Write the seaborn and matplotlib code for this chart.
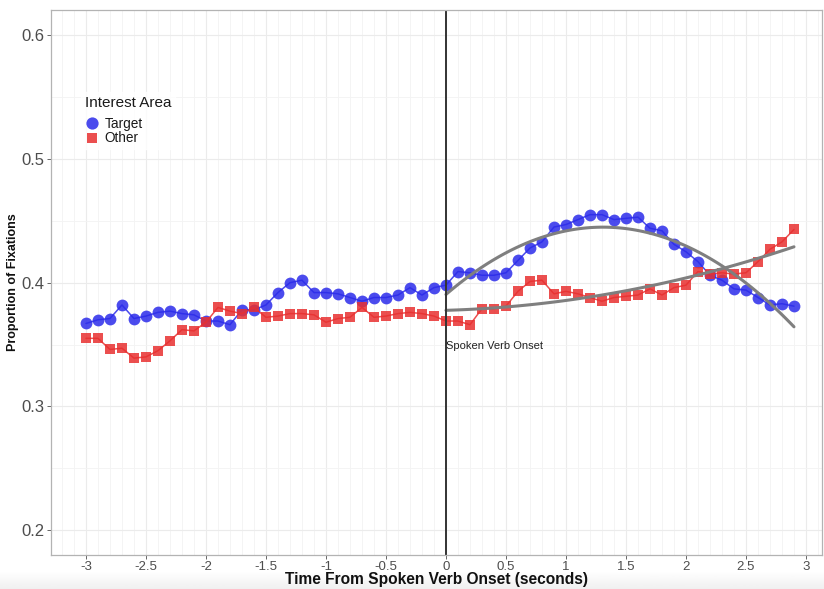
import numpy as np
import pandas as pd
import matplotlib
matplotlib.use("Agg")
import matplotlib.pyplot as plt
from matplotlib.lines import Line2D
from matplotlib.ticker import MultipleLocator
import seaborn as sns

# time bins (seconds from spoken verb onset)
time = np.round(np.arange(-3.0, 2.95, 0.1), 1)

# proportion of fixations
target = [0.367, 0.370, 0.371, 0.382, 0.371, 0.373, 0.376, 0.377, 0.375, 0.374,
          0.369, 0.369, 0.366, 0.378, 0.378, 0.382, 0.392, 0.400, 0.402, 0.392,
          0.392, 0.391, 0.388, 0.385, 0.388, 0.388, 0.390, 0.396, 0.390, 0.396,
          0.398, 0.409, 0.408, 0.406, 0.406, 0.408, 0.418, 0.428, 0.433, 0.445,
          0.447, 0.451, 0.455, 0.455, 0.451, 0.452, 0.453, 0.444, 0.442, 0.431,
          0.425, 0.417, 0.406, 0.402, 0.395, 0.394, 0.388, 0.382, 0.383, 0.381]
other = [0.355, 0.355, 0.346, 0.347, 0.339, 0.340, 0.345, 0.353, 0.362, 0.361,
         0.368, 0.380, 0.377, 0.375, 0.380, 0.372, 0.373, 0.375, 0.375, 0.374,
         0.368, 0.371, 0.372, 0.380, 0.372, 0.373, 0.375, 0.376, 0.375, 0.373,
         0.369, 0.369, 0.366, 0.379, 0.379, 0.381, 0.393, 0.401, 0.402, 0.391,
         0.393, 0.391, 0.388, 0.385, 0.388, 0.389, 0.390, 0.395, 0.390, 0.396,
         0.398, 0.409, 0.407, 0.408, 0.407, 0.408, 0.417, 0.427, 0.433, 0.443]

series_names = ["Target", "Other"]
colors = {"Target": "#2b2bea", "Other": "#e83030"}
markers = {"Target": "o", "Other": "s"}
msizes = {"Target": 8.5, "Other": 6.8}

df = pd.DataFrame({
    "time": np.concatenate([time, time]),
    "prop": np.concatenate([target, other]),
    "area": ["Target"] * len(time) + ["Other"] * len(time),
})

sns.set_style("whitegrid")
plt.rcParams['font.family'] = ['Liberation Sans', 'DejaVu Sans']

fig = plt.figure(figsize=(8.24, 5.89), dpi=100)

# faint grey strip at the very bottom of the screenshot
bg = fig.add_axes([0, 0, 1, 0.03], zorder=-5)
bg.imshow(np.linspace(0.94, 1.0, 20).reshape(-1, 1), cmap="gray", vmin=0, vmax=1,
          aspect="auto", origin="lower", extent=[0, 1, 0, 1])
bg.axis("off")

ax = fig.add_axes([0.0615, 0.0577, 0.936, 0.926])

for name in series_names:
    d = df[df["area"] == name]
    sns.lineplot(data=d, x="time", y="prop", color=colors[name], marker=markers[name],
                 markersize=msizes[name], markeredgewidth=0, alpha=0.85, linewidth=1.1, ax=ax,
                 legend=False)

# quadratic fits after verb onset
for name in series_names:
    d = df[(df["area"] == name) & (df["time"] >= 0)]
    sns.regplot(data=d, x="time", y="prop", order=2, scatter=False, ci=None,
                color="#7f7f7f", line_kws={"linewidth": 2.2}, ax=ax, truncate=True)

ax.axvline(0, color="#333333", linewidth=1.4)
ax.text(0.0, 0.349, "Spoken Verb Onset", fontsize=8, color="#222222", va="center", ha="left")

ax.set_xlim(-3.294, 3.133)
ax.set_ylim(0.1798, 0.6208)
ax.xaxis.set_minor_locator(MultipleLocator(0.1))
ax.yaxis.set_major_locator(MultipleLocator(0.1))
ax.yaxis.set_minor_locator(MultipleLocator(0.05))
ticks = np.arange(-3, 3.01, 0.5)
ax.set_xticks(ticks)
ax.set_xticklabels([f"{v:g}" for v in ticks])
ax.grid(which="major", color="#ebebeb", linewidth=0.8)
ax.grid(which="minor", color="#f3f3f3", linewidth=0.6)
ax.tick_params(axis="x", which="major", labelsize=9.5, colors="#4d4d4d", length=3, width=0.6,
               bottom=True, pad=1.5)
ax.tick_params(axis="y", which="major", labelsize=12, colors="#4d4d4d", length=3, width=0.6,
               left=True, pad=1.5)
ax.tick_params(which="minor", length=0)
for s in ax.spines.values():
    s.set_color("#b3b3b3")
    s.set_linewidth(0.9)

ax.set_xlabel("Time From Spoken Verb Onset (seconds)", fontsize=11.2, fontweight="bold",
              color="#111111", labelpad=-1)
ax.set_ylabel("Proportion of Fixations", fontsize=9, fontweight="bold", color="#111111")
ax.yaxis.set_label_coords(-0.041, 0.5)

handles = [Line2D([], [], color=colors[n], marker=markers[n], linestyle="", markersize=msizes[n] + 0.3,
                  markeredgewidth=0, alpha=0.85) for n in series_names]
leg = ax.legend(handles, series_names, title="Interest Area", loc="upper left",
                bbox_to_anchor=(0.03, 0.862), frameon=True, fontsize=9.8, title_fontsize=11,
                handletextpad=0.45, labelspacing=0.05, borderpad=0.3, handlelength=1.0)
leg.get_frame().set_edgecolor("white")
leg.get_frame().set_facecolor("white")
leg._legend_box.align = "left"
leg._legend_box.sep = 5
for t in leg.get_texts():
    t.set_color("#1a1a1a")
leg.get_title().set_color("#1a1a1a")

fig.savefig("out.png", dpi=100)
